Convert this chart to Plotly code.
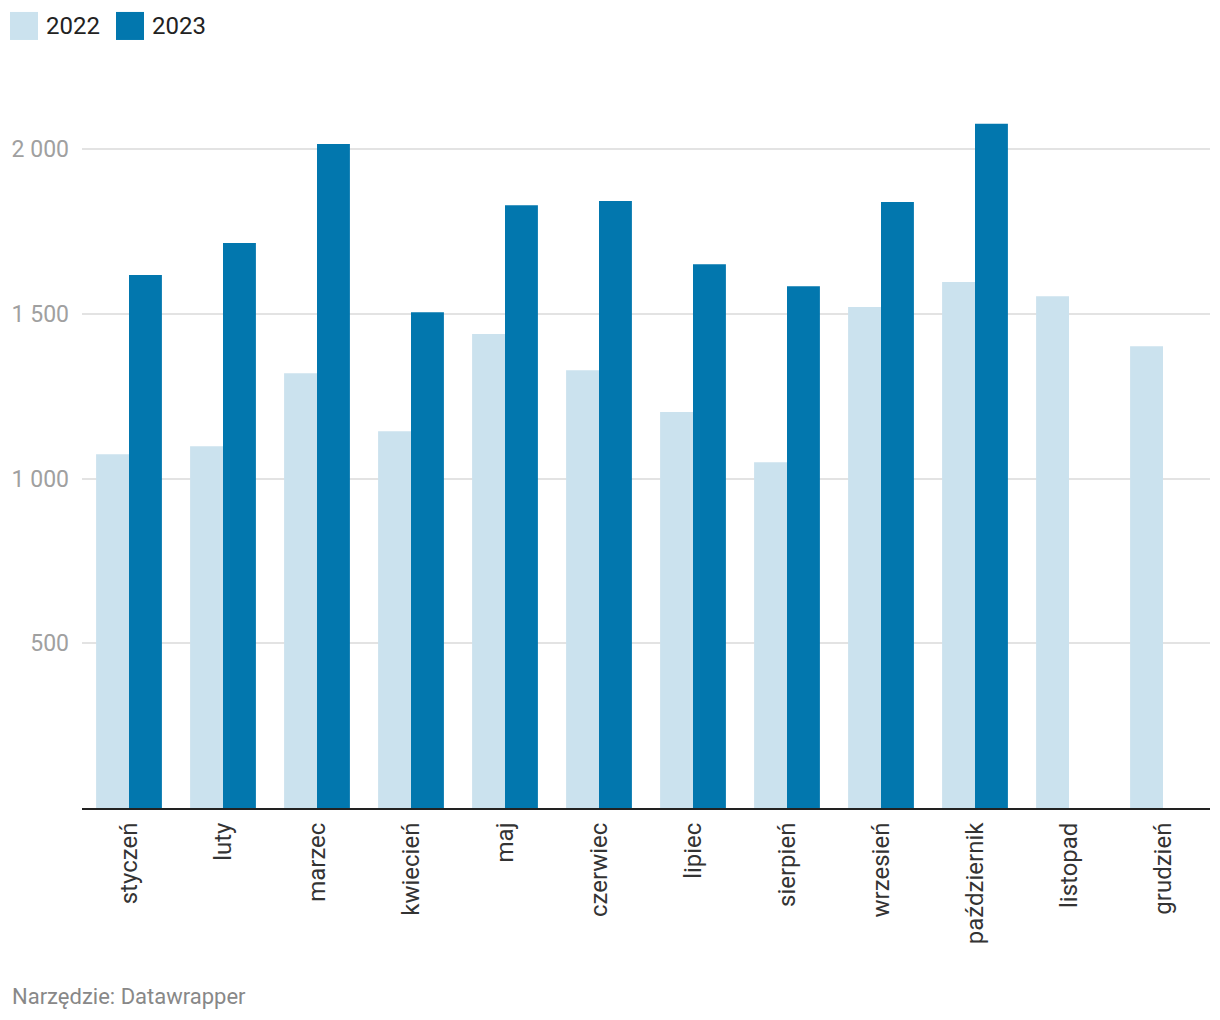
import plotly.graph_objects as go

months = ["styczeń", "luty", "marzec", "kwiecień", "maj", "czerwiec", "lipiec",
          "sierpień", "wrzesień", "październik", "listopad", "grudzień"]
series_names = ["2022", "2023"]
values_2022 = [1074, 1098, 1320, 1144, 1439, 1329, 1202, 1050, 1521, 1597, 1554, 1402]
values_2023 = [1618, 1715, 2016, 1505, 1830, 1843, 1651, 1584, 1840, 2077, None, None]
tick_vals = [500, 1000, 1500, 2000]
tick_text = ["500", "1 000", "1 500", "2 000"]
footer_text = "Narzędzie: Datawrapper"

colors = ["#cbe2ee", "#0277ae"]
OFF = 8  # page body margin in the browser
W, H = 1220 - OFF, 1020 - OFF
ML, MR, MT, MB = 82 - OFF, 10, 100 - OFF, 1020 - 807.6
PW, PH = W - ML - MR, H - MT - MB

fig = go.Figure()
for name, vals, col in zip(series_names, [values_2022, values_2023], colors):
    fig.add_trace(go.Bar(x=months, y=vals, name=name, marker_color=col,
                         marker_line_width=0, showlegend=False))

# convert screen pixels to paper coordinates
def px_x(p):
    return (p - OFF - ML) / PW

def px_y(p):
    return (H - MB - (p - OFF)) / PH

shapes = []
annotations = []
legend_x = [10, 116]
for i, name in enumerate(series_names):
    x0 = legend_x[i]
    shapes.append(dict(type="rect", xref="paper", yref="paper",
                       x0=px_x(x0), x1=px_x(x0 + 28), y0=px_y(40), y1=px_y(12),
                       fillcolor=colors[i], line_width=0))
    annotations.append(dict(text=name, xref="paper", yref="paper",
                            x=px_x(x0 + 34), y=px_y(26), xanchor="left", yanchor="middle",
                            showarrow=False, font=dict(size=24, color="#222222")))
annotations.append(dict(text=footer_text, xref="paper", yref="paper",
                        x=px_x(10), y=px_y(996), xanchor="left", yanchor="middle",
                        showarrow=False, font=dict(size=22, color="#888888")))

fig.update_layout(
    width=W, height=H,
    margin=dict(l=ML, r=MR, t=MT, b=MB, pad=0),
    paper_bgcolor="white", plot_bgcolor="white",
    font=dict(family="Roboto", size=24, color="#333333"),
    barmode="group", bargap=0.3, bargroupgap=0,
    shapes=shapes, annotations=annotations,
    xaxis=dict(tickangle=-90, showgrid=False, showline=True, linecolor="#222222",
               linewidth=2, ticks="", tickfont=dict(size=24, color="#333333"),
               ticklabelstandoff=3, automargin=False),
    yaxis=dict(range=[0, (807.6 - 100) / 0.3292], tickvals=tick_vals, ticktext=tick_text,
               showgrid=True, gridcolor="#e3e3e3", gridwidth=1.5, zeroline=False,
               showline=False, ticks="", tickfont=dict(size=23, color="#a0a0a0"),
               ticklabelstandoff=12, automargin=False),
)

fig.write_html("out.html")
